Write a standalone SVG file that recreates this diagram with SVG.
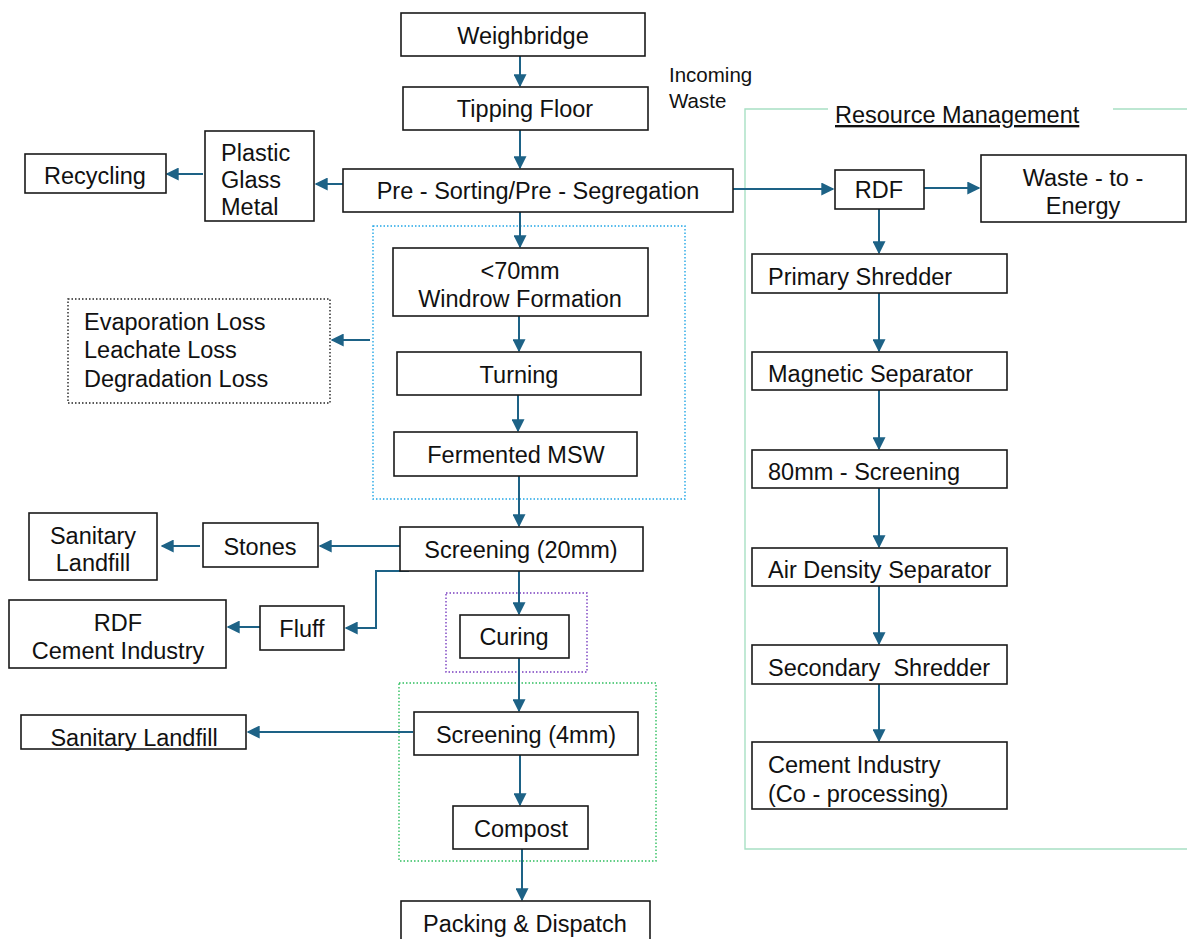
<svg xmlns="http://www.w3.org/2000/svg" width="1187" height="939" viewBox="0 0 1187 939">
  <style>
    .box { fill: #ffffff; stroke: #1a1a1a; stroke-width: 1.6; }
    .txt { font-family: "Liberation Sans", Arial, sans-serif; font-size: 23.5px; fill: #111111; }
    .mid { text-anchor: middle; }
    .small { font-size: 20.5px; }
    .link { fill: none; stroke: #1d6286; stroke-width: 2; }
    .zone { fill: none; stroke-width: 1.4; stroke-dasharray: 1.5 2; }
  </style>
  <defs>
    <marker id="arrow" viewBox="0 0 10 10" refX="9" refY="5" markerWidth="6.5" markerHeight="6.5" markerUnits="strokeWidth" orient="auto">
      <path d="M0,0 L10,5 L0,10 z" fill="#1d6286"/>
    </marker>
  </defs>

  <!-- grouping outlines -->
  <g id="zones">
    <rect class="zone" x="373" y="226" width="312" height="273" stroke="#21a6e6"/>
    <rect class="zone" x="446" y="593" width="141" height="79" stroke="#7a3fc0"/>
    <rect class="zone" x="399" y="683" width="257" height="178" stroke="#2fbf5f"/>
    <rect class="zone" x="68" y="299" width="262" height="104" stroke="#222222"/>
    <path d="M828,109 H745 V849 H1187 M1113,109 H1187" fill="none" stroke="#a8e0c4" stroke-width="1.4"/>
  </g>

  <g id="connectors">
    <line class="link" x1="520" y1="56" x2="520" y2="86" marker-end="url(#arrow)"/>
    <line class="link" x1="520" y1="130" x2="520" y2="168" marker-end="url(#arrow)"/>
    <line class="link" x1="343" y1="184" x2="316" y2="184" marker-end="url(#arrow)"/>
    <line class="link" x1="203" y1="174" x2="167" y2="174" marker-end="url(#arrow)"/>
    <line class="link" x1="733" y1="189" x2="833" y2="189" marker-end="url(#arrow)"/>
    <line class="link" x1="924" y1="188" x2="979" y2="188" marker-end="url(#arrow)"/>
    <line class="link" x1="520" y1="212" x2="520" y2="247" marker-end="url(#arrow)"/>
    <line class="link" x1="370" y1="340" x2="332" y2="340" marker-end="url(#arrow)"/>
    <line class="link" x1="519" y1="316" x2="519" y2="351" marker-end="url(#arrow)"/>
    <line class="link" x1="518" y1="395" x2="518" y2="431" marker-end="url(#arrow)"/>
    <line class="link" x1="519" y1="476" x2="519" y2="526" marker-end="url(#arrow)"/>
    <line class="link" x1="400" y1="546" x2="320" y2="546" marker-end="url(#arrow)"/>
    <line class="link" x1="200" y1="546" x2="162" y2="546" marker-end="url(#arrow)"/>
    <polyline class="link" points="409,571 376,571 376,628 346,628" marker-end="url(#arrow)"/>
    <line class="link" x1="263" y1="627" x2="228" y2="627" marker-end="url(#arrow)"/>
    <line class="link" x1="519" y1="570" x2="519" y2="614" marker-end="url(#arrow)"/>
    <line class="link" x1="519" y1="658" x2="519" y2="711" marker-end="url(#arrow)"/>
    <line class="link" x1="413" y1="732" x2="248" y2="732" marker-end="url(#arrow)"/>
    <line class="link" x1="520" y1="755" x2="520" y2="805" marker-end="url(#arrow)"/>
    <line class="link" x1="522" y1="849" x2="522" y2="900" marker-end="url(#arrow)"/>
    <line class="link" x1="879" y1="209" x2="879" y2="253" marker-end="url(#arrow)"/>
    <line class="link" x1="879" y1="293" x2="879" y2="351" marker-end="url(#arrow)"/>
    <line class="link" x1="879" y1="390" x2="879" y2="449" marker-end="url(#arrow)"/>
    <line class="link" x1="879" y1="488" x2="879" y2="547" marker-end="url(#arrow)"/>
    <line class="link" x1="879" y1="586" x2="879" y2="644" marker-end="url(#arrow)"/>
    <line class="link" x1="879" y1="684" x2="879" y2="741" marker-end="url(#arrow)"/>
  </g>

  <g id="weighbridge">
    <rect class="box" x="401" y="13" width="244" height="43"/>
    <text class="txt mid" x="523" y="44">Weighbridge</text>
  </g>
  <g id="incoming-waste">
    <text class="txt small" x="669" y="82">Incoming</text>
    <text class="txt small" x="669" y="108">Waste</text>
  </g>
  <g id="tipping-floor">
    <rect class="box" x="403" y="87" width="245" height="43"/>
    <text class="txt mid" x="525" y="117">Tipping Floor</text>
  </g>
  <g id="pre-sorting">
    <rect class="box" x="343" y="169" width="390" height="43"/>
    <text class="txt mid" x="538" y="199">Pre - Sorting/Pre - Segregation</text>
  </g>
  <g id="plastic-glass-metal">
    <rect class="box" x="205" y="131" width="109" height="90"/>
    <text class="txt" x="221" y="161">Plastic</text>
    <text class="txt" x="221" y="188">Glass</text>
    <text class="txt" x="221" y="215">Metal</text>
  </g>
  <g id="recycling">
    <rect class="box" x="25" y="154" width="141" height="39"/>
    <text class="txt mid" x="95" y="184">Recycling</text>
  </g>
  <g id="losses">
    <text class="txt" x="84" y="330">Evaporation Loss</text>
    <text class="txt" x="84" y="358">Leachate Loss</text>
    <text class="txt" x="84" y="387">Degradation Loss</text>
  </g>
  <g id="windrow">
    <rect class="box" x="393" y="248" width="255" height="68"/>
    <text class="txt mid" x="520" y="279">&lt;70mm</text>
    <text class="txt mid" x="520" y="307">Windrow Formation</text>
  </g>
  <g id="turning">
    <rect class="box" x="397" y="352" width="244" height="43"/>
    <text class="txt mid" x="519" y="383">Turning</text>
  </g>
  <g id="fermented-msw">
    <rect class="box" x="394" y="432" width="243" height="44"/>
    <text class="txt mid" x="516" y="463">Fermented MSW</text>
  </g>
  <g id="screening-20mm">
    <rect class="box" x="400" y="527" width="243" height="44"/>
    <text class="txt mid" x="521" y="558">Screening (20mm)</text>
  </g>
  <g id="stones">
    <rect class="box" x="203" y="523" width="115" height="44"/>
    <text class="txt mid" x="260" y="555">Stones</text>
  </g>
  <g id="sanitary-landfill-1">
    <rect class="box" x="29" y="513" width="128" height="67"/>
    <text class="txt mid" x="93" y="544">Sanitary</text>
    <text class="txt mid" x="93" y="571">Landfill</text>
  </g>
  <g id="fluff">
    <rect class="box" x="260" y="606" width="84" height="44"/>
    <text class="txt mid" x="302" y="637">Fluff</text>
  </g>
  <g id="rdf-cement">
    <rect class="box" x="9" y="600" width="217" height="68"/>
    <text class="txt mid" x="118" y="631">RDF</text>
    <text class="txt mid" x="118" y="659">Cement Industry</text>
  </g>
  <g id="curing">
    <rect class="box" x="460" y="615" width="109" height="43"/>
    <text class="txt mid" x="514" y="645">Curing</text>
  </g>
  <g id="screening-4mm">
    <rect class="box" x="414" y="712" width="224" height="43"/>
    <text class="txt mid" x="526" y="743">Screening (4mm)</text>
  </g>
  <g id="sanitary-landfill-2">
    <rect class="box" x="21" y="715" width="225" height="34"/>
    <text class="txt mid" x="134" y="746">Sanitary Landfill</text>
  </g>
  <g id="compost">
    <rect class="box" x="453" y="806" width="135" height="43"/>
    <text class="txt mid" x="521" y="837">Compost</text>
  </g>
  <g id="packing-dispatch">
    <rect class="box" x="401" y="901" width="249" height="45"/>
    <text class="txt mid" x="525" y="932">Packing &amp; Dispatch</text>
  </g>

  <g id="resource-management">
    <text class="txt" x="835" y="123" text-decoration="underline">Resource Management</text>
  </g>
  <g id="rdf">
    <rect class="box" x="835" y="170" width="89" height="39"/>
    <text class="txt mid" x="879" y="198">RDF</text>
  </g>
  <g id="waste-to-energy">
    <rect class="box" x="981" y="155" width="205" height="67"/>
    <text class="txt mid" x="1083" y="186">Waste - to -</text>
    <text class="txt mid" x="1083" y="214">Energy</text>
  </g>
  <g id="primary-shredder">
    <rect class="box" x="752" y="254" width="255" height="39"/>
    <text class="txt" x="768" y="285">Primary Shredder</text>
  </g>
  <g id="magnetic-separator">
    <rect class="box" x="752" y="352" width="255" height="38"/>
    <text class="txt" x="768" y="382">Magnetic Separator</text>
  </g>
  <g id="screening-80mm">
    <rect class="box" x="752" y="450" width="255" height="38"/>
    <text class="txt" x="768" y="480">80mm - Screening</text>
  </g>
  <g id="air-density-separator">
    <rect class="box" x="752" y="548" width="255" height="38"/>
    <text class="txt" x="768" y="578">Air Density Separator</text>
  </g>
  <g id="secondary-shredder">
    <rect class="box" x="752" y="645" width="255" height="39"/>
    <text class="txt" x="768" y="676" xml:space="preserve">Secondary  Shredder</text>
  </g>
  <g id="cement-industry">
    <rect class="box" x="752" y="742" width="255" height="67"/>
    <text class="txt" x="768" y="773">Cement Industry</text>
    <text class="txt" x="768" y="802">(Co - processing)</text>
  </g>
</svg>
